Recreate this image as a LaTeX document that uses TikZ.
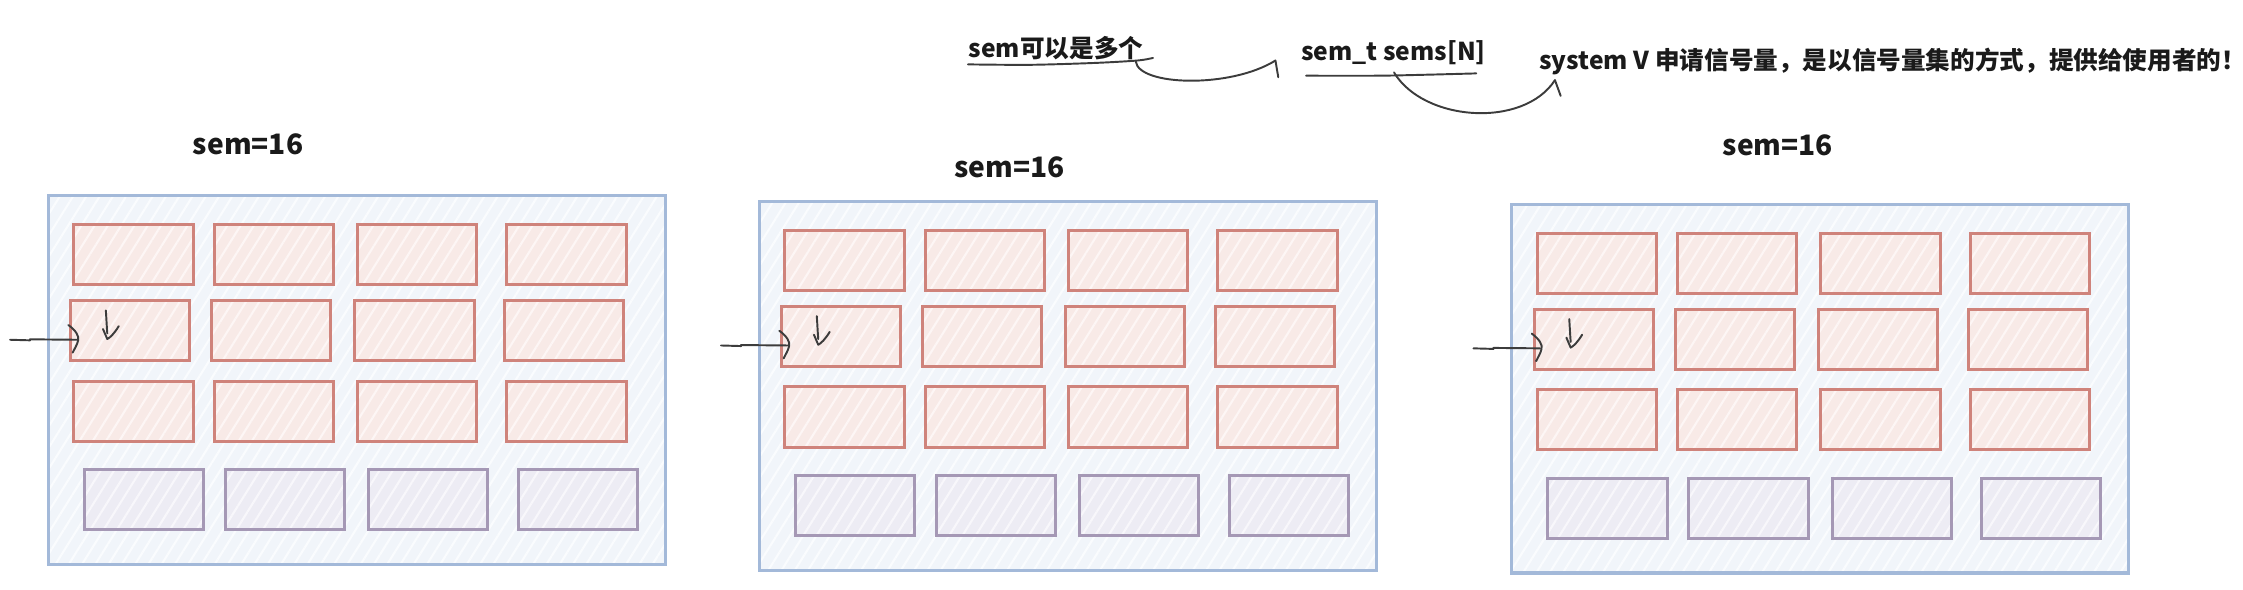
\documentclass[tikz,border=0pt]{standalone}
\usepackage{fontspec}
\setmainfont{Noto Sans CJK SC}
\usetikzlibrary{patterns.meta}
\definecolor{outerline}{HTML}{A3B9D9}
\definecolor{outerfill}{HTML}{F1F5FA}
\definecolor{outerhatch}{HTML}{FAFCFE}
\definecolor{redline}{HTML}{CF837B}
\definecolor{redfill}{HTML}{F8EAE7}
\definecolor{redhatch}{HTML}{FDF6F5}
\definecolor{purpline}{HTML}{A598B5}
\definecolor{purpfill}{HTML}{EDECF4}
\definecolor{purphatch}{HTML}{F8F7FB}
\definecolor{ink}{HTML}{1A1A1A}
\newcommand\sempanel[3]{%
\begin{scope}[shift={(#2,#3)}]
  \node[outerbox] (#1) at (215.5,128.75) {};
  \foreach \c/\x in {1/59.3,2/157.5,3/257.6,4/362} {
    \node[redcell] (#1-a\c) at (\x,40.9) {};
    \node[redcell] (#1-c\c) at (\x,150.5) {};
  }
  \foreach \c/\x in {1/57.05,2/155.65,3/255.7,4/360.45} {
    \node[redcell] (#1-b\c) at (\x,94.1) {};
  }
  \foreach \c/\x in {1/66.75,2/165.35,3/265.4,4/369.85} {
    \node[purpcell] (#1-d\c) at (\x,212.4) {};
  }
  \coordinate (#1-in) at (-27,100.5);
  \draw[pen] (#1-in) -- (-13,100.9) -- (-13,100.2) -- ([shift={(5.2,6.4)}]#1-b1.west);
  \draw[pen] (13.8,90.2) .. controls (19,94) and (21.5,98) .. (20.6,101)
             .. controls (20,104) and (18,107) .. (16.8,109.5);
  \draw[pen] (40,80) .. controls (40.4,86) and (40.6,91) .. (41,96);
  \draw[pen] (38,93) -- (41,100) .. controls (43,99) and (46,96) .. (49,91);
\end{scope}}
\begin{document}
\begin{tikzpicture}[x=0.014305cm, y=-0.014305cm,
  outerbox/.style={draw=outerline, line width=0.9pt, minimum width=6.1655cm,
    minimum height=3.6835cm, inner sep=0pt, preaction={fill=outerfill},
    pattern={Lines[angle=58,distance=3.2pt,line width=0.6pt]}, pattern color=outerhatch},
  cell/.style={line width=0.85pt, minimum width=1.1916cm, minimum height=0.6008cm, inner sep=0pt},
  redcell/.style={cell, draw=redline, preaction={fill=redfill},
    pattern={Lines[angle=58,distance=3.2pt,line width=0.6pt]}, pattern color=redhatch},
  purpcell/.style={cell, draw=purpline, preaction={fill=purpfill},
    pattern={Lines[angle=58,distance=3.2pt,line width=0.6pt]}, pattern color=purphatch},
  semlabel/.style={font=\bfseries\fontsize{8}{9}\selectfont, text=ink, inner sep=0pt},
  notetext/.style={font=\bfseries\fontsize{7}{8}\selectfont, text=ink, inner sep=0pt},
  pen/.style={draw=ink!85, line width=0.55pt, line cap=round, line join=round},
]
\useasboundingbox (0,0) rectangle (1568,412);
\sempanel{p1}{34}{137}
\sempanel{p2}{531}{141}
\sempanel{p3}{1057}{143}
\node[semlabel] (s1) at (173.4,100.7) {sem=16};
\node[semlabel] (s2) at (705.7,116.7) {sem=16};
\node[semlabel] (s3) at (1242.9,101.4) {sem=16};
% top notes
\node[notetext, anchor=west] (t1) at (676.7,33.8) {sem可以是多个};
\node[notetext, anchor=west] (t2) at (909,37) {sem\_t sems[N]};
\node[notetext, anchor=west] (t3) at (1075.6,42.75) {system V 申请信号量，是以信号量集的方式，提供给使用者的！};
\draw[pen] plot[smooth] coordinates {(676.7,45) (720,45.3) (765,44) (795,42.3) (806,40.5)};
\draw[pen] plot[smooth] coordinates {(913,52.9) (963.6,52.9) (998,52.2) (1032,51.3)};
\coordinate (c1s) at (794,43);
\coordinate (c1e) at (891.6,42.3);
\draw[pen] (c1s) .. controls (796,60) and (860,62) .. (c1e);
\draw[pen] (c1e) -- (893.6,54);
\coordinate (c2s) at (974.5,50.6);
\coordinate (c2e) at (1087,56);
\draw[pen] (c2s) .. controls (995,85) and (1065,90) .. (c2e);
\draw[pen] (c2e) -- (1091,67);
\end{tikzpicture}
\end{document}
